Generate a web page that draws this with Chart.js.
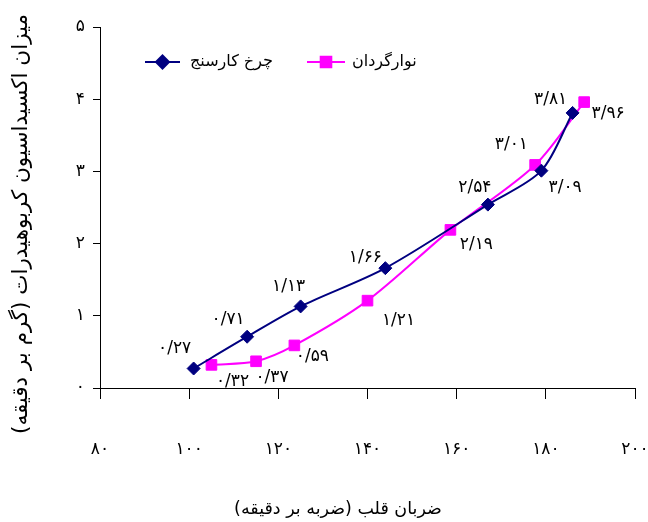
<!DOCTYPE html>
<html>
<head>
<meta charset="utf-8">
<script src="https://cdn.jsdelivr.net/npm/chart.js@4.4.0/dist/chart.umd.min.js"></script>
<style>
  html, body { margin: 0; padding: 0; background: #fff; }
  #wrap { width: 648px; height: 522px; }
  canvas { direction: rtl; }
</style>
</head>
<body>
<div id="wrap"><canvas id="chart" width="648" height="522"></canvas></div>
<script>
const FA_DIGITS = '۰۱۲۳۴۵۶۷۸۹';
const toFa = s => String(s).replace(/[0-9]/g, d => FA_DIGITS[d]);

// داده‌ها
const seriesNames = ['چرخ کارسنج', 'نوارگردان'];
const ergoHR = [101, 113, 125, 144, 167, 179, 186];
const ergoCHO = [0.27, 0.71, 1.13, 1.66, 2.54, 3.01, 3.81];
const treadHR = [105, 115, 123.6, 140, 158.6, 177.6, 188.6];
const treadCHO = [0.32, 0.37, 0.59, 1.21, 2.19, 3.09, 3.96];
const xTicks = [80, 100, 120, 140, 160, 180, 200];
const yTicks = [0, 1, 2, 3, 4, 5];
const xTitle = 'ضربان قلب (ضربه بر دقیقه)';
const yTitle = 'میزان اکسیداسیون کربوهیدرات (گرم بر دقیقه)';

// جای برچسب هر نقطه نسبت به خود نقطه (پیکسل)
const ergoLabelOff = [[-19, -20], [-19, -17], [-12, -20], [-20, -11], [-13, -17], [-30, -26], [-22, -13]];
const treadLabelOff = [[21, 17], [16, 16], [18, 11], [31, 20], [26, 15], [30, 23], [24, 11]];

const NAVY = '#000080', MAGENTA = '#FF00FF';
const FONT = "'DejaVu Sans', sans-serif";

const toPoints = (xs, ys) => xs.map((x, i) => ({ x: x, y: ys[i] }));

const pointLabels = {
  id: 'pointLabels',
  afterDatasetsDraw(chart) {
    const ctx = chart.ctx;
    const offs = [ergoLabelOff, treadLabelOff];
    ctx.save();
    ctx.font = '17px ' + FONT;
    ctx.fillStyle = '#000';
    ctx.textAlign = 'center';
    ctx.textBaseline = 'middle';
    chart.data.datasets.forEach((ds, di) => {
      chart.getDatasetMeta(di).data.forEach((pt, i) => {
        const txt = toFa(ds.data[i].y.toFixed(2)).replace('.', '/');
        ctx.fillText(txt, pt.x + offs[di][i][0], pt.y + offs[di][i][1]);
      });
    });
    ctx.restore();
  }
};

// عنوان محورها (جای آن‌ها در تصویر اصلی کمی از وسط جابه‌جاست)
const axisTitles = {
  id: 'axisTitles',
  afterDraw(chart) {
    const ctx = chart.ctx;
    ctx.save();
    ctx.fillStyle = '#000';
    ctx.textAlign = 'center';
    ctx.textBaseline = 'middle';
    ctx.font = '17.5px ' + FONT;
    ctx.fillText(xTitle, 338, 509);
    ctx.translate(21, 224);
    ctx.rotate(-Math.PI / 2);
    ctx.font = '21.5px ' + FONT;
    ctx.fillText(yTitle, 0, 0);
    ctx.restore();
  }
};

const legendBox = {
  id: 'legendBox',
  afterDraw(chart) {
    const ctx = chart.ctx;
    const items = [
      { x0: 145, x1: 180, tx: 190, color: NAVY, style: 'rectRot', r: 6.5 },
      { x0: 307, x1: 345, tx: 352, color: MAGENTA, style: 'rect', r: 7.5 }
    ];
    const y = 62;
    ctx.save();
    items.forEach((it, i) => {
      ctx.strokeStyle = it.color;
      ctx.lineWidth = 2;
      ctx.beginPath();
      ctx.moveTo(it.x0, y);
      ctx.lineTo(it.x1, y);
      ctx.stroke();
      ctx.fillStyle = it.color;
      Chart.helpers.drawPoint(ctx, { pointStyle: it.style, radius: it.r, borderWidth: 1 }, (it.x0 + it.x1) / 2, y);
      ctx.fill();
      ctx.fillStyle = '#000';
      ctx.font = '16px ' + FONT;
      ctx.textAlign = 'left';
      ctx.textBaseline = 'middle';
      ctx.fillText(seriesNames[i], it.tx, y);
    });
    ctx.restore();
  }
};

new Chart(document.getElementById('chart'), {
  type: 'line',
  data: {
    datasets: [{
      label: seriesNames[0],
      data: toPoints(ergoHR, ergoCHO),
      borderColor: NAVY,
      backgroundColor: NAVY,
      borderWidth: 2,
      pointStyle: 'rectRot',
      pointRadius: 6.5,
      pointBorderWidth: 1,
      tension: 0.3
    }, {
      label: seriesNames[1],
      data: toPoints(treadHR, treadCHO),
      borderColor: MAGENTA,
      backgroundColor: MAGENTA,
      borderWidth: 2,
      pointStyle: 'rect',
      pointRadius: 7.5,
      pointBorderWidth: 1,
      tension: 0.3
    }]
  },
  options: {
    responsive: false,
    animation: false,
    layout: { padding: { top: 27, right: 13, bottom: 0, left: 0 } },
    plugins: { legend: { display: false }, tooltip: { enabled: false } },
    scales: {
      x: {
        type: 'linear',
        min: 80, max: 200,
        afterBuildTicks: s => { s.ticks = xTicks.map(v => ({ value: v })); },
        afterFit: s => { s.height = 134; s.paddingLeft = 0; s.paddingRight = 0; },
        ticks: { callback: v => toFa(v), color: '#000', font: { family: FONT, size: 17 }, padding: 40, maxRotation: 0 },
        grid: { drawOnChartArea: false, color: '#000', tickLength: 11 },
        border: { color: '#000', width: 1 }
      },
      y: {
        min: 0, max: 5,
        afterBuildTicks: s => { s.ticks = yTicks.map(v => ({ value: v })); },
        afterFit: s => { s.width = 100; },
        ticks: { callback: v => toFa(v), color: '#000', font: { family: FONT, size: 17 }, padding: 8 },
        grid: { drawOnChartArea: false, color: '#000', tickLength: 7 },
        border: { color: '#000', width: 1 }
      }
    }
  },
  plugins: [pointLabels, axisTitles, legendBox]
});
</script>
</body>
</html>
